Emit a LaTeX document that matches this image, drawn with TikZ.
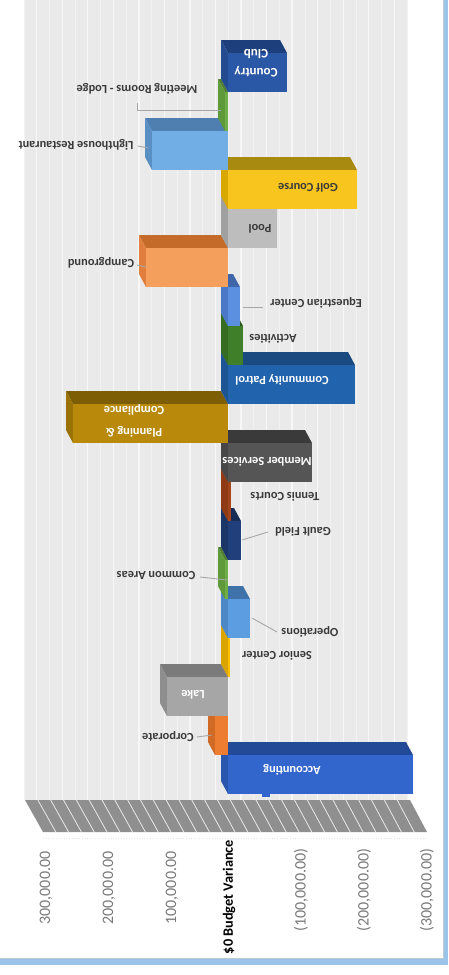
\documentclass[tikz,border=0pt]{standalone}
\usepackage{fontspec}
\setmainfont{Carlito}
\definecolor{wallc}{HTML}{EAEAEA}
\definecolor{gridc}{HTML}{F7F7F7}
\definecolor{floorc}{HTML}{8F8F8F}
\definecolor{labc}{HTML}{3A3A3A}
\definecolor{axc}{HTML}{7A7A7A}
\definecolor{leadc}{HTML}{A6A6A6}
\definecolor{bordc}{HTML}{9CC3E8}
% bar colours: front / top / side
\definecolor{ccF}{HTML}{2B57A7}\definecolor{ccT}{HTML}{1D3F7C}\definecolor{ccS}{HTML}{234B90}
\definecolor{grF}{HTML}{70AD47}\definecolor{grT}{HTML}{507E32}\definecolor{grS}{HTML}{5E9A3A}
\definecolor{lhF}{HTML}{72AEE6}\definecolor{lhT}{HTML}{4F7FB0}\definecolor{lhS}{HTML}{5A8FC4}
\definecolor{gcF}{HTML}{F8C51F}\definecolor{gcT}{HTML}{A88A10}\definecolor{gcS}{HTML}{D9A800}
\definecolor{poF}{HTML}{BDBDBD}\definecolor{poT}{HTML}{8C8C8C}\definecolor{poS}{HTML}{A0A0A0}
\definecolor{cgF}{HTML}{F4A05C}\definecolor{cgT}{HTML}{C56B2A}\definecolor{cgS}{HTML}{E07F3D}
\definecolor{eqF}{HTML}{5B8FE0}\definecolor{eqT}{HTML}{3E66A8}\definecolor{eqS}{HTML}{4A78C6}
\definecolor{acF}{HTML}{3F7F2A}\definecolor{acT}{HTML}{2B5A1C}\definecolor{acS}{HTML}{346C22}
\definecolor{cpF}{HTML}{2263AD}\definecolor{cpT}{HTML}{1A4A80}\definecolor{cpS}{HTML}{1D5594}
\definecolor{plF}{HTML}{B8890A}\definecolor{plT}{HTML}{7D5E05}\definecolor{plS}{HTML}{9A7207}
\definecolor{msF}{HTML}{555555}\definecolor{msT}{HTML}{3A3A3A}\definecolor{msS}{HTML}{474747}
\definecolor{tcF}{HTML}{A5451B}\definecolor{tcT}{HTML}{7A3010}\definecolor{tcS}{HTML}{8D3A15}
\definecolor{gfF}{HTML}{213F7A}\definecolor{gfT}{HTML}{172C57}\definecolor{gfS}{HTML}{1B3567}
\definecolor{opF}{HTML}{5B9DE0}\definecolor{opT}{HTML}{3F72A8}\definecolor{opS}{HTML}{4D88C6}
\definecolor{scF}{HTML}{FFC000}\definecolor{scT}{HTML}{B88A00}\definecolor{scS}{HTML}{D9A300}
\definecolor{lkF}{HTML}{A6A6A6}\definecolor{lkT}{HTML}{7B7B7B}\definecolor{lkS}{HTML}{8E8E8E}
\definecolor{coF}{HTML}{ED7D31}\definecolor{coT}{HTML}{B45A1C}\definecolor{coS}{HTML}{D06A25}
\definecolor{cnF}{HTML}{3366CC}\definecolor{cnT}{HTML}{234A96}\definecolor{cnS}{HTML}{2A57AD}
\newcommand\drawbarbox[3]{% #1 index, #2 x end, #3 colour prefix
  \pgfmathsetmacro\ya{53+39*#1}%
  \pgfmathsetmacro\yb{\ya+39}%
  \pgfmathsetmacro\xl{min(#2,228)}%
  \pgfmathsetmacro\xr{max(#2,228)}%
  \fill[#3T] (\xl,\ya) -- (\xr,\ya) -- (\xr-7,\ya-13) -- (\xl-7,\ya-13) -- cycle;
  \fill[#3S] (\xl,\ya) -- (\xl,\yb) -- (\xl-7,\yb-13) -- (\xl-7,\ya-13) -- cycle;
  \fill[#3F] (\xl,\ya) rectangle (\xr,\yb);
}
\begin{document}
\begin{tikzpicture}[x=1pt,y=-1pt,
  lbl/.style={rotate=180,text=labc,inner sep=0pt,font=\bfseries\fontsize{12.4}{15}\selectfont},
  inlbl/.style={lbl,text=white,align=center},
  axlbl/.style={rotate=90,text=axc,inner sep=0pt,font=\fontsize{16}{18}\selectfont},
  lead/.style={draw=leadc,line width=0.9pt}]
\useasboundingbox (0,0) rectangle (448,975);
\fill[white] (0,0) rectangle (448,975);
% back wall
\fill[wallc] (24,0) rectangle (407,800);
\foreach \k in {0,...,30}{
  \pgfmathsetmacro\xx{24+\k*12.767}
  \pgfmathtruncatemacro\odd{mod(\k,2)}
  \ifnum\odd=1
    \draw[gridc,line width=1.3pt] (\xx,0) -- (\xx,800);
  \else
    \draw[gridc!60!wallc,line width=0.7pt] (\xx,0) -- (\xx,800);
  \fi
}
% floor
\fill[floorc] (25,800) -- (410,800) -- (427,832) -- (43,832) -- cycle;
\foreach \k in {1,...,29}{
  \draw[white!80!floorc,line width=0.8pt] ({25+\k*12.833},800) -- ({43+\k*12.8},832);
}
\draw[black!10,line width=0.6pt,dotted] (43,838) -- (427,838);
% bars, drawn from bottom to top
\drawbarbox{18}{413}{cn}
\drawbarbox{17}{215}{co}
\drawbarbox{16}{167}{lk}
\drawbarbox{15}{230}{sc}
\drawbarbox{14}{250}{op}
\drawbarbox{13}{225}{gr}
\drawbarbox{12}{241}{gf}
\drawbarbox{11}{231}{tc}
\drawbarbox{10}{312}{ms}
\drawbarbox{9}{73}{pl}
\drawbarbox{8}{355}{cp}
\drawbarbox{7}{243}{ac}
\drawbarbox{6}{240}{eq}
\drawbarbox{5}{146}{cg}
\drawbarbox{4}{277}{po}
\drawbarbox{3}{357}{gc}
\drawbarbox{2}{152}{lh}
\drawbarbox{1}{225}{gr}
\drawbarbox{0}{287}{cc}
% leader lines
\coordinate (mr1) at (137,103); \coordinate (mr2) at (137,110); \coordinate (mr3) at (221,110);
\draw[lead] (mr1) -- (mr2) -- (mr3);
\coordinate (lh1) at (138,146); \coordinate (lh2) at (148,148);
\draw[lead] (lh1) -- (lh2);
\coordinate (cg1) at (137,265); \coordinate (cg2) at (146,267);
\draw[lead] (cg1) -- (cg2);
\coordinate (eq1) at (243,307); \coordinate (eq2) at (263,307);
\draw[lead] (eq1) -- (eq2);
\coordinate (gf1) at (242,540); \coordinate (gf2) at (268,532);
\draw[lead] (gf1) -- (gf2);
\coordinate (ca1) at (200,577); \coordinate (ca2) at (227,580);
\draw[lead] (ca1) -- (ca2);
\coordinate (op1) at (252,618); \coordinate (op2) at (277,632);
\draw[lead] (op1) -- (op2);
\coordinate (co1) at (197,737); \coordinate (co2) at (212,735);
\draw[lead] (co1) -- (co2);
\fill[cnF] (262,793) rectangle (270,797);
% bar labels
\node[inlbl,font=\bfseries\fontsize{13}{19}\selectfont] (tcc) at (256,63) {Country\\Club};
\node[lbl] (tmr) at (137,89) {Meeting Rooms - Lodge};
\node[lbl] (tlh) at (76,145) {Lighthouse Restaurant};
\node[lbl] (tgc) at (308,188) {Golf Course};
\node[lbl] (tpo) at (260,229) {Pool};
\node[lbl] (tcg) at (101,263) {Campground};
\node[lbl] (teq) at (316,303) {Equestrian Center};
\node[lbl] (tac) at (273,339) {Activities};
\node[inlbl] (tcp) at (282,380) {Community Patrol};
\node[inlbl,font=\bfseries\fontsize{12.4}{22}\selectfont] (tpl) at (134,421) {Planning \&\\Compliance};
\node[inlbl] (tms) at (267,462) {Member Services};
\node[lbl] (ttc) at (285,497) {Tennis Courts};
\node[lbl] (tgf) at (303,532) {Gault Field};
\node[lbl] (tca) at (156,576) {Common Areas};
\node[lbl] (top) at (310,632) {Operations};
\node[lbl] (tsc) at (277,656) {Senior Center};
\node[inlbl] (tlk) at (193,695) {Lake};
\node[lbl] (tco) at (168,737) {Corporate};
\node[inlbl] (tcn) at (292,770) {Accounting};
% axis labels
\node[axlbl] (a1) at (46,888) {300,000.00};
\node[axlbl] (a2) at (109,888) {200,000.00};
\node[axlbl] (a3) at (172,888) {100,000.00};
\node[axlbl,text=black,font=\bfseries\fontsize{14.3}{16}\selectfont] (a0) at (229,897) {\$0 Budget Variance};
\node[axlbl] (a4) at (301,890) {(100,000.00)};
\node[axlbl] (a5) at (364,890) {(200,000.00)};
\node[axlbl] (a6) at (427,890) {(300,000.00)};
% frame
\fill[bordc] (443.5,0) rectangle (448,965);
\fill[bordc] (0,958) rectangle (448,965);
\draw[bordc!60!black!40,line width=0.5pt] (443.5,0) -- (443.5,958) -- (0,958);
\end{tikzpicture}
\end{document}
